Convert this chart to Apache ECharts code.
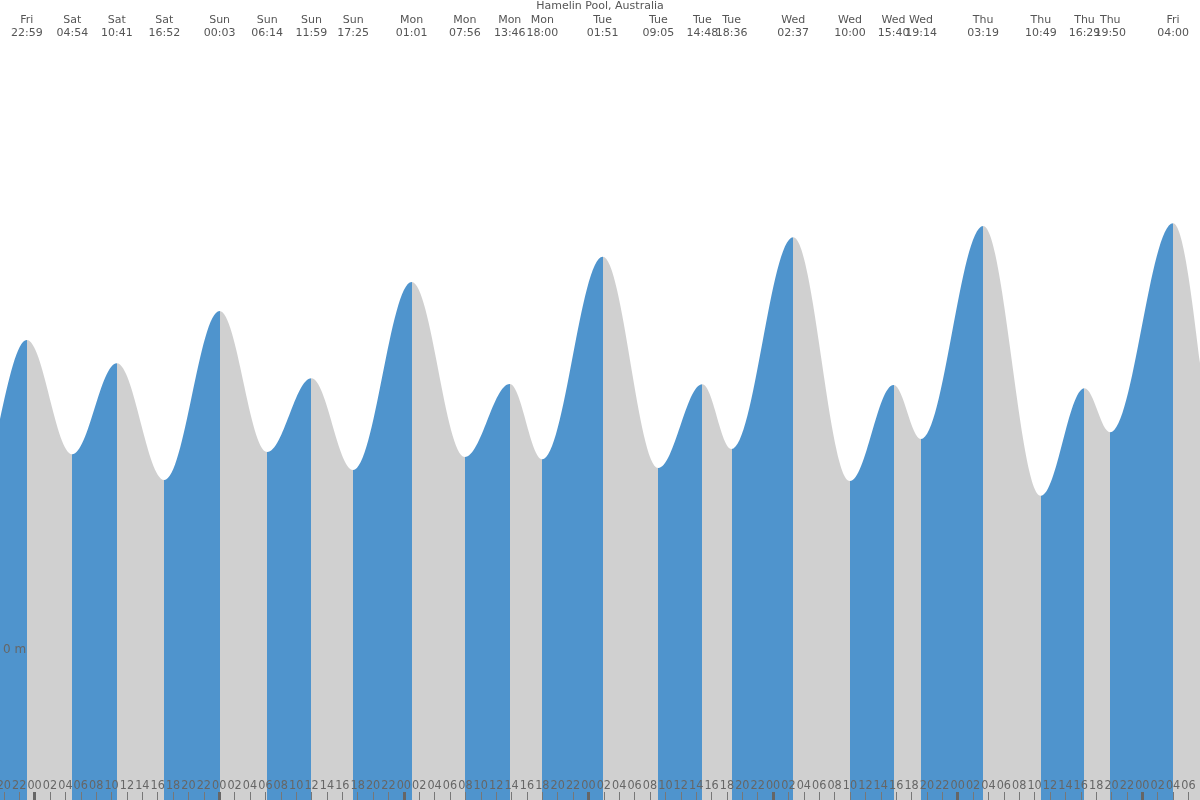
<!DOCTYPE html>
<html>
<head>
<meta charset="utf-8">
<script src="https://cdn.jsdelivr.net/npm/echarts@6/dist/echarts.min.js"></script>
<style>html,body{margin:0;padding:0;background:#fff}#chart{width:1200px;height:800px}</style>
</head>
<body>
<div id="chart"></div>
<script>
// ---- data ----
const chartTitle = 'Hamelin Pool, Australia';
// tide extremes (first two and last two lie outside the visible window)
const extremeDays = ['Fri','Fri','Fri','Sat','Sat','Sat','Sun','Sun','Sun','Sun','Mon','Mon','Mon','Mon','Tue','Tue','Tue','Tue','Wed','Wed','Wed','Wed','Thu','Thu','Thu','Thu','Fri','Fri','Fri'];
const extremeTimes = ['10:30','16:24','22:59','04:54','10:41','16:52','00:03','06:14','11:59','17:25','01:01','07:56','13:46','18:00','01:51','09:05','14:48','18:36','02:37','10:00','15:40','19:14','03:19','10:49','16:29','19:50','04:00','11:00','17:00'];
const extremeHeights = [1.00,0.66,1.240,0.783,1.147,0.680,1.356,0.792,1.087,0.720,1.472,0.772,1.064,0.763,1.573,0.728,1.063,0.804,1.651,0.676,1.060,0.844,1.696,0.617,1.047,0.871,1.707,0.59,1.05];
// visible window in hours relative to Sat 00:00
const windowStart = -4.5;   // Fri 19:30
const windowEnd = 151.5;    // Fri 07:30
const hourTicks = [];  for (let h = -4; h <= 150; h += 2) hourTicks.push(h);
const dayTicks = [0, 24, 48, 72, 96, 120, 144];
const yLabelValues = [0];

const BLUE = '#4f94cd', GREY = '#d0d0d0';

// hours since Sat 00:00 for each extreme
let dayIdx = -1;
const extremeHours = extremeDays.map((d, i) => {
  if (i > 0 && d !== extremeDays[i - 1]) dayIdx++;
  const [hh, mm] = extremeTimes[i].split(':').map(Number);
  return dayIdx * 24 + hh + mm / 60;
});
const seriesData = extremeHours.map((h, i) => [h, extremeHeights[i]]);

// rising (low->high) blue, falling (high->low) grey
const pieces = [];
for (let i = 0; i <= extremeHours.length; i++) {
  const isHighStart = i > 0 ? extremeHeights[i - 1] > (extremeHeights[i] !== undefined ? extremeHeights[i] : -1) : extremeHeights[0] < extremeHeights[1];
  const p = { color: isHighStart ? GREY : BLUE };
  if (i > 0) p.gte = extremeHours[i - 1];
  if (i < extremeHours.length) p.lt = extremeHours[i];
  pieces.push(p);
}

const visibleIdx = extremeHours.map((h, i) => i).filter(i => extremeHours[i] > windowStart && extremeHours[i] < windowEnd);
const topValues = visibleIdx.map(i => extremeHours[i]);
function topLabel(v) {
  let best = 0, bd = Infinity;
  extremeHours.forEach((h, i) => { const d = Math.abs(h - v); if (d < bd) { bd = d; best = i; } });
  return extremeDays[best] + '\n' + extremeTimes[best];
}
function hourLabel(v) {
  const h = ((Math.round(v) % 24) + 24) % 24;
  return (h < 10 ? '0' : '') + h;
}

const chart = echarts.init(document.getElementById('chart'), null, { renderer: 'canvas' });
chart.setOption({
  animation: false,
  backgroundColor: '#ffffff',
  title: {
    text: chartTitle, left: 'center', top: 1, padding: 0,
    textStyle: { fontFamily: 'DejaVu Sans', fontSize: 11, fontWeight: 'normal', color: '#555' }
  },
  grid: { left: 0, right: 0, top: 0, bottom: 0, containLabel: false, outerBoundsMode: 'none' },
  xAxis: [
    {
      type: 'value', min: windowStart, max: windowEnd, position: 'bottom', z: 10,
      axisLine: { show: false, onZero: false }, splitLine: { show: false },
      axisTick: { show: true, inside: true, length: 8, customValues: hourTicks, lineStyle: { color: '#777', width: 1 } },
      axisLabel: {
        show: true, inside: true, customValues: hourTicks, formatter: hourLabel, margin: 8,
        fontFamily: "'Liberation Sans Narrow','DejaVu Sans Condensed','Liberation Sans'", fontSize: 12.5, color: '#666', hideOverlap: false
      }
    },
    {
      type: 'value', min: windowStart, max: windowEnd, position: 'bottom', z: 11,
      axisLine: { show: false, onZero: false }, splitLine: { show: false },
      axisTick: { show: true, inside: true, length: 8, customValues: dayTicks, lineStyle: { color: '#666', width: 3 } },
      axisLabel: { show: false }
    },
    {
      type: 'value', min: windowStart, max: windowEnd, position: 'top', z: 10,
      axisLine: { show: false, onZero: false }, splitLine: { show: false },
      axisTick: { show: false },
      axisLabel: {
        show: true, inside: true, customValues: topValues, formatter: topLabel, margin: 14,
        fontFamily: 'DejaVu Sans', fontSize: 11, lineHeight: 13, color: '#555', hideOverlap: false
      }
    }
  ],
  yAxis: {
    type: 'value', min: -0.6, max: 2.6, z: 10,
    axisLine: { show: false, onZero: false }, splitLine: { show: false }, axisTick: { show: false },
    axisLabel: {
      show: true, inside: true, customValues: yLabelValues, formatter: v => v + ' m', margin: 3,
      fontFamily: 'DejaVu Sans', fontSize: 12, color: '#666', verticalAlign: 'middle', padding: [3, 0, 0, 0]
    }
  },
  visualMap: { type: 'piecewise', show: false, dimension: 0, seriesIndex: 0, pieces: pieces },
  series: [{
    type: 'line', data: seriesData, xAxisIndex: 0, yAxisIndex: 0,
    showSymbol: false, symbol: 'none', silent: true,
    smooth: 0.363, smoothMonotone: 'x',
    lineStyle: { width: 0 },
    areaStyle: { opacity: 1, origin: 'start' }
  }]
});
</script>
</body>
</html>
